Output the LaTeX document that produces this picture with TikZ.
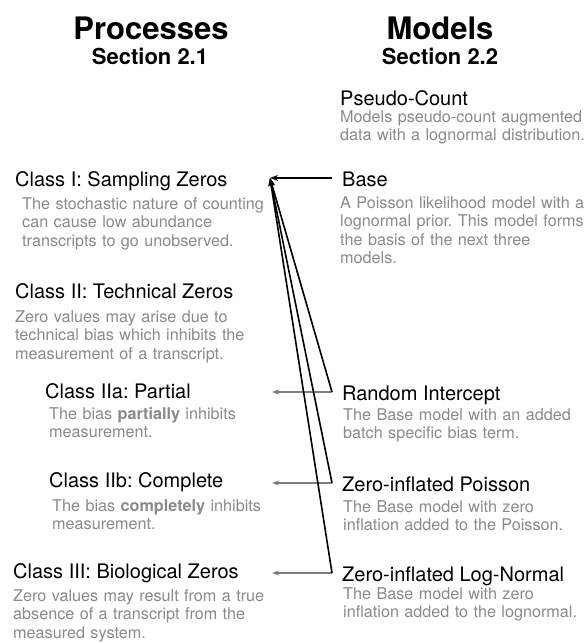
\documentclass[tikz,border=0pt]{standalone}
\usepackage{fontspec}
\setmainfont{TeX Gyre Heros}
\usepackage{xcolor}
\usetikzlibrary{arrows.meta}

\definecolor{descgray}{RGB}{138,138,138}
\definecolor{linkgray}{RGB}{125,125,125}

\tikzset{
  head/.style={anchor=base west, inner sep=0pt, text height=16pt, text depth=0pt,
    font=\fontsize{20}{24}\selectfont},
  modhead/.style={head, inner xsep=10pt},
  desc/.style={anchor=base west, inner sep=0pt, text width=260pt, align=left,
    text=descgray, font=\fontsize{16.2}{18.5}\selectfont}
}
\frenchspacing

\begin{document}
\begin{tikzpicture}[x=1pt, y=-1pt]
\path[use as bounding box, fill=white] (0,0) rectangle (584,643);

% column titles
\begin{scope}[every node/.style={anchor=base, inner sep=0pt}]
  \node[font=\bfseries\fontsize{31}{36}\selectfont] (proc) at (151,39) {Processes};
  \node[font=\bfseries\fontsize{22}{26}\selectfont] (procsec) at (150,64) {Section 2.1};
  \node[font=\bfseries\fontsize{31}{36}\selectfont] (mod) at (440,39) {Models};
  \node[font=\bfseries\fontsize{22}{26}\selectfont] (modsec) at (440,64) {Section 2.2};
\end{scope}

% processes
\node[head] (c1) at (15,186) {Class I: Sampling Zeros};
\node[desc] (c1d) at (22,209) {The stochastic nature of counting\\can cause low abundance\\transcripts to go unobserved.};
\node[head] (c2) at (15,298) {Class II: Technical Zeros};
\node[desc] (c2d) at (15,322) {Zero values may arise due to\\technical bias which inhibits the\\measurement of a transcript.};
\node[head] (c2a) at (45,398) {Class IIa: Partial};
\node[desc] (c2ad) at (49,419) {The bias \textbf{partially} inhibits\\measurement.};
\node[head] (c2b) at (49,487) {Class IIb: Complete};
\node[desc] (c2bd) at (52,511) {The bias \textbf{completely} inhibits\\measurement.};
\node[head] (c3) at (13,578) {Class III: Biological Zeros};
\node[desc] (c3d) at (13,601) {Zero values may result from a true\\absence of a transcript from the\\measured system.};

% models
\node[modhead] (pc) at (330,105) {Pseudo-Count};
\node[desc] (pcd) at (340,122) {Models pseudo-count augmented\\data with a lognormal distribution.};
\node[modhead] (base) at (332,186) {Base};
\node[desc] (based) at (340,208) {A Poisson likelihood model with a\\lognormal prior. This model forms\\the basis of the next three\\models.};
\node[modhead] (ri) at (332,400) {Random Intercept};
\node[desc] (rid) at (343,420) {The Base model with an added\\batch specific bias term.};
\node[modhead] (zip) at (332,491) {Zero-inflated Poisson};
\node[desc] (zipd) at (343,512) {The Base model with zero\\inflation added to the Poisson.};
\node[modhead] (ziln) at (332,581) {Zero-inflated Log-Normal};
\node[desc] (zilnd) at (343,599) {The Base model with zero\\inflation added to the lognormal.};

\coordinate (tip) at (270,178);
\coordinate (gx) at (272,0);

\begin{scope}[>={Stealth[length=7pt, width=5pt]},
              every edge/.style={draw=linkgray, line width=1.8pt}]
  \path[->] (ri.west) edge (ri.west -| gx);
  \path[->] (zip.west) edge (zip.west -| gx);
  \path[->] (ziln.west) edge (ziln.west -| gx);
\end{scope}
\begin{scope}[>={Stealth[length=8pt, width=6pt]},
              every edge/.style={draw=black, line width=1.6pt}]
  \path[->] (base.west) edge (tip);
  \path[->] (ri.west) edge (tip);
  \path[->] (zip.west) edge (tip);
  \path[->] (ziln.west) edge (tip);
\end{scope}

\end{tikzpicture}
\end{document}
